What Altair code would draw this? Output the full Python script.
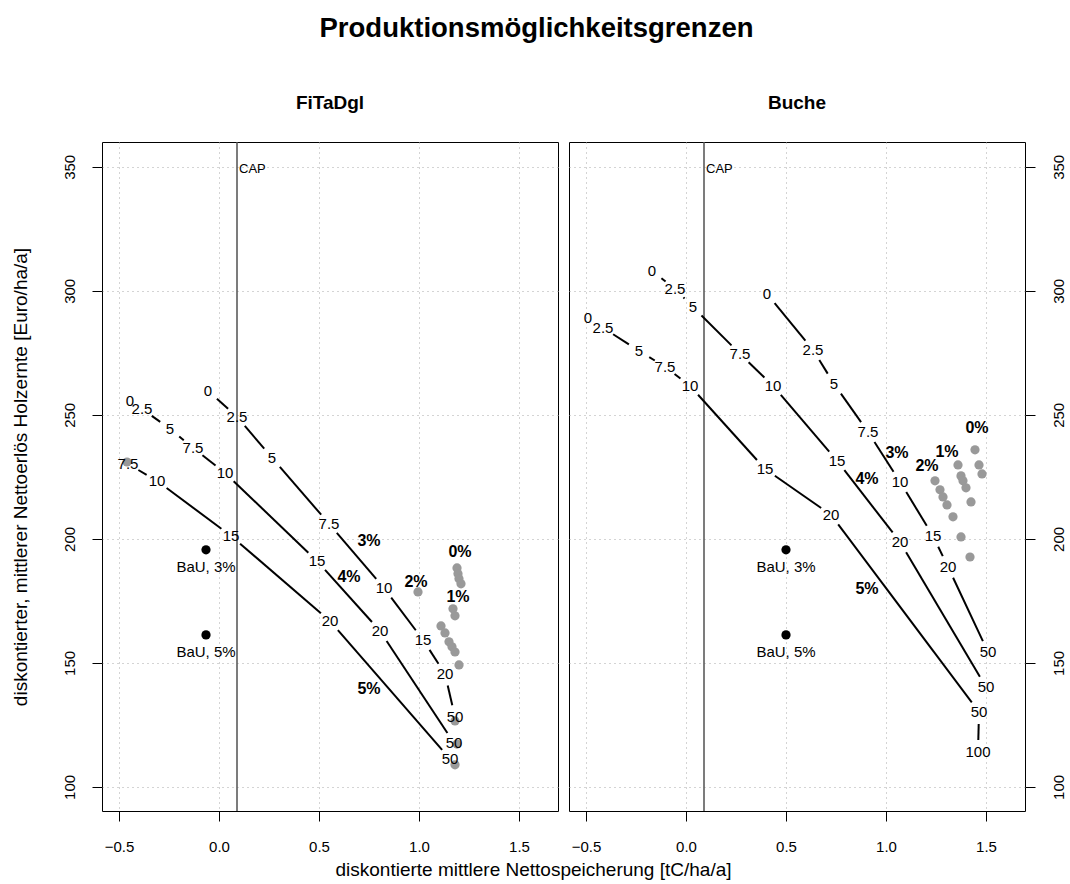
import math
import altair as alt
import pandas as pd

FONT = "Liberation Sans"
X_DOMAIN = [-0.585, 1.695]
Y_DOMAIN = [90.3, 360.0]
PANEL_W, PANEL_H = 456, 669
CAP_X = 0.09
GAP_PX = 12  # blank space left around each price label on a frontier

X_TICKS = [-0.5, 0.0, 0.5, 1.0, 1.5]
Y_TICKS = [100, 150, 200, 250, 300, 350]

# ---- FiTaDgl: frontiers labelled with carbon prices ----
fi_a_lab = ["0", "2.5", "5", "7.5", "10", "15", "20", "50"]
fi_a_x = [-0.055, 0.09, 0.265, 0.55, 0.825, 1.02, 1.13, 1.18]
fi_a_y = [259.7, 249.2, 232.7, 206.1, 180.2, 159.3, 145.6, 128.2]

fi_b_lab = ["0", "2.5", "5", "7.5", "10", "15", "20", "50"]
fi_b_x = [-0.445, -0.385, -0.245, -0.13, 0.03, 0.49, 0.805, 1.175]
fi_b_y = [255.6, 252.4, 244.4, 236.7, 226.6, 191.1, 162.9, 117.7]

fi_c_lab = ["7.5", "10", "15", "20", "50"]
fi_c_x = [-0.455, -0.31, 0.06, 0.555, 1.155]
fi_c_y = [230.2, 223.4, 201.2, 166.9, 111.3]

fi_grey_x = [-0.46, 1.19, 1.195, 1.2, 1.21, 0.995, 1.17, 1.18, 1.11, 1.13,
             1.15, 1.165, 1.18, 1.2, 1.18, 1.19, 1.18]
fi_grey_y = [231.0, 188.3, 185.9, 183.9, 181.9, 178.6, 171.8, 169.0, 164.9, 162.1,
             158.5, 156.5, 154.4, 149.2, 126.6, 117.3, 108.9]

fi_rate_lab = ["0%", "1%", "2%", "3%", "4%", "5%"]
fi_rate_x = [1.205, 1.195, 0.985, 0.75, 0.65, 0.75]
fi_rate_y = [194.8, 176.6, 182.7, 199.2, 184.7, 139.5]

fi_bau_lab = ["BaU, 3%", "BaU, 5%"]
fi_bau_x = [-0.065, -0.065]
fi_bau_y = [195.6, 161.3]

# ---- Buche ----
bu_a_lab = ["0", "2.5", "5", "7.5", "10", "15", "20", "50"]
bu_a_x = [-0.17, -0.055, 0.035, 0.27, 0.435, 0.755, 1.07, 1.5]
bu_a_y = [308.1, 300.8, 293.5, 274.6, 261.7, 231.5, 198.8, 140.3]

bu_b_lab = ["0", "2.5", "5", "7.5", "10", "15", "20", "50", "100"]
bu_b_x = [-0.49, -0.415, -0.235, -0.105, 0.02, 0.395, 0.725, 1.465, 1.46]
bu_b_y = [289.1, 285.1, 275.8, 269.4, 261.7, 228.2, 209.7, 130.2, 114.1]

bu_c_lab = ["0", "2.5", "5", "7.5", "10", "15", "20", "50"]
bu_c_x = [0.405, 0.635, 0.74, 0.91, 1.07, 1.235, 1.31, 1.51]
bu_c_y = [298.8, 276.2, 262.5, 243.1, 223.0, 201.2, 188.7, 154.4]

bu_grey_x = [1.445, 1.465, 1.48, 1.36, 1.375, 1.385, 1.4, 1.425, 1.245, 1.27,
             1.285, 1.305, 1.335, 1.375, 1.42]
bu_grey_y = [235.9, 229.8, 226.2, 229.8, 225.4, 223.4, 220.6, 214.9, 223.4, 219.8,
             216.9, 213.7, 208.9, 200.8, 192.7]

bu_rate_lab = ["0%", "1%", "2%", "3%", "4%", "5%"]
bu_rate_x = [1.455, 1.305, 1.205, 1.055, 0.905, 0.905]
bu_rate_y = [244.8, 235.1, 229.4, 234.7, 224.2, 179.8]

bu_bau_lab = ["BaU, 3%", "BaU, 5%"]
bu_bau_x = [0.5, 0.5]
bu_bau_y = [195.6, 161.3]


def gapped_segments(frontiers):
    """Connect consecutive frontier points, leaving a gap around each label."""
    sx = PANEL_W / (X_DOMAIN[1] - X_DOMAIN[0])
    sy = PANEL_H / (Y_DOMAIN[1] - Y_DOMAIN[0])
    rows = []
    for xs, ys in frontiers:
        for i in range(len(xs) - 1):
            ddx, ddy = xs[i + 1] - xs[i], ys[i + 1] - ys[i]
            length = math.hypot(ddx * sx, ddy * sy)
            if length <= 2 * GAP_PX:
                continue
            f = GAP_PX / length
            rows.append({"x": xs[i] + f * ddx, "y": ys[i] + f * ddy,
                         "x2": xs[i + 1] - f * ddx, "y2": ys[i + 1] - f * ddy})
    return pd.DataFrame(rows)


def x_enc(show_title):
    kw = dict(values=X_TICKS, format=".1f",
              labelExpr="replace(datum.label, '-', '\u2212')",
              grid=True, gridDash=[1, 4], gridColor="#a8a8a8", gridWidth=1,
              tickSize=10, tickColor="black", tickWidth=1, domain=False,
              labelFontSize=15, labelColor="black", labelPadding=18,
              labelFont=FONT)
    if show_title:
        kw.update(title="diskontierte mittlere Nettospeicherung [tC/ha/a]",
                  titleFontSize=19, titleFontWeight="normal", titleFont=FONT,
                  titleColor="black", titleX=431, titleY=58,
                  titleAlign="center", titleBaseline="middle")
    else:
        kw.update(title=None)
    return alt.X("x:Q", scale=alt.Scale(domain=X_DOMAIN, nice=False, zero=False),
                 axis=alt.Axis(**kw))


def y_enc(orient):
    kw = dict(values=Y_TICKS, format="d", orient=orient,
              grid=True, gridDash=[1, 4], gridColor="#a8a8a8", gridWidth=1,
              tickSize=10, tickColor="black", tickWidth=1, domain=False,
              labelFontSize=15, labelColor="black", labelFont=FONT,
              labelAngle=270, labelAlign="center", labelBaseline="middle",
              labelPadding=23)
    if orient == "left":
        kw.update(title="diskontierter, mittlerer Nettoerlös Holzernte [Euro/ha/a]",
                  titleFontSize=19, titleFontWeight="normal", titleFont=FONT,
                  titleColor="black", titleAngle=270, titleX=-82,
                  titleY=PANEL_H / 2, titleAlign="center", titleBaseline="middle")
    else:
        kw.update(title=None)
    return alt.Y("y:Q", scale=alt.Scale(domain=Y_DOMAIN, nice=False, zero=False),
                 axis=alt.Axis(**kw))


def panel(name, frontiers, grey, rates, bau, y_orient, show_xtitle):
    X = x_enc(show_xtitle)
    Y = y_enc(y_orient)

    seg = gapped_segments([(fx, fy) for _, fx, fy in frontiers])
    lab_rows = []
    for labs, fx, fy in frontiers:
        lab_rows += [{"x": a, "y": b, "t": t} for t, a, b in zip(labs, fx, fy)]
    labs_df = pd.DataFrame(lab_rows)

    grey_df = pd.DataFrame({"x": grey[0], "y": grey[1]})
    rate_df = pd.DataFrame({"t": rates[0], "x": rates[1], "y": rates[2]})
    bau_df = pd.DataFrame({"t": bau[0], "x": bau[1], "y": bau[2]})
    cap_df = pd.DataFrame({"x": [CAP_X], "y": [349.2], "t": ["CAP"]})

    cap_line = alt.Chart(cap_df).mark_rule(color="#505050", strokeWidth=1.5).encode(x=X)
    cap_text = alt.Chart(cap_df).mark_text(
        align="left", baseline="middle", dx=2, fontSize=13, font=FONT, color="black"
    ).encode(x=X, y=Y, text="t:N")
    grey_pts = alt.Chart(grey_df).mark_circle(size=85, color="#999999", opacity=1).encode(x=X, y=Y)
    lines = alt.Chart(seg).mark_rule(color="black", strokeWidth=2).encode(
        x=X, y=Y, x2="x2:Q", y2="y2:Q")
    price_text = alt.Chart(labs_df).mark_text(
        fontSize=15, font=FONT, color="black", align="center", baseline="middle"
    ).encode(x=X, y=Y, text="t:N")
    rate_text = alt.Chart(rate_df).mark_text(
        fontSize=16, font=FONT, fontWeight="bold", color="black",
        align="center", baseline="middle"
    ).encode(x=X, y=Y, text="t:N")
    bau_pts = alt.Chart(bau_df).mark_circle(size=85, color="black", opacity=1).encode(x=X, y=Y)
    bau_text = alt.Chart(bau_df).mark_text(
        fontSize=15, font=FONT, color="black", align="center", baseline="middle", dy=17
    ).encode(x=X, y=Y, text="t:N")

    return alt.layer(
        cap_line, grey_pts, lines, price_text, rate_text, bau_pts, bau_text, cap_text
    ).properties(
        width=PANEL_W, height=PANEL_H,
        title=alt.TitleParams(name, fontSize=19, fontWeight="bold", font=FONT,
                              color="black", anchor="middle", offset=28),
    )


left = panel(
    "FiTaDgl",
    [(fi_a_lab, fi_a_x, fi_a_y), (fi_b_lab, fi_b_x, fi_b_y), (fi_c_lab, fi_c_x, fi_c_y)],
    (fi_grey_x, fi_grey_y),
    (fi_rate_lab, fi_rate_x, fi_rate_y),
    (fi_bau_lab, fi_bau_x, fi_bau_y),
    "left", True,
)
right = panel(
    "Buche",
    [(bu_a_lab, bu_a_x, bu_a_y), (bu_b_lab, bu_b_x, bu_b_y), (bu_c_lab, bu_c_x, bu_c_y)],
    (bu_grey_x, bu_grey_y),
    (bu_rate_lab, bu_rate_x, bu_rate_y),
    (bu_bau_lab, bu_bau_x, bu_bau_y),
    "right", False,
)

chart = alt.hconcat(left, right, spacing=11, bounds="flush").properties(
    title=alt.TitleParams("Produktionsmöglichkeitsgrenzen", fontSize=27.5,
                          fontWeight="bold", font=FONT, color="black",
                          anchor="middle", dx=-2, offset=51),
    padding={"left": 10, "top": 15, "right": 0, "bottom": 0},
).configure(
    font=FONT, background="white",
    view=alt.ViewConfig(stroke="black", strokeWidth=1),
)

chart.save("out.html", embed_options={"renderer": "svg", "actions": False})
